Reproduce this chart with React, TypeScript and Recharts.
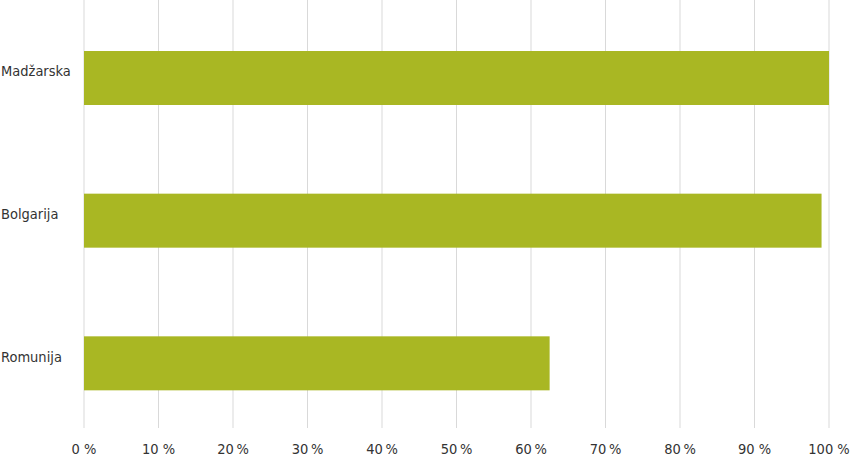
import { Bar, BarChart, CartesianGrid, XAxis, YAxis } from "recharts";

const countries = ["Madžarska", "Bolgarija", "Romunija"];
const shares = [100, 99, 62.5];
const tickValues = [0, 10, 20, 30, 40, 50, 60, 70, 80, 90, 100];
const tickLabels = ["0 %", "10 %", "20\u2009%", "30\u2009%", "40\u2009%", "50\u2009%", "60\u2009%", "70\u2009%", "80\u2009%", "90 %", "100 %"];

const data = countries.map((name, i) => ({ name, value: shares[i] }));

const font = "'DejaVu Sans Condensed', 'Liberation Sans Narrow', sans-serif";

// bars sit a little below the band centre in the original
const OffsetBar = (p: any) => (
  <rect x={p.x} y={p.y + 7} width={p.width} height={p.height} fill="#A9B723" />
);

const App = () => {
  return (
    <div style={{ position: "absolute", left: 0, top: 0, background: "#fff" }}>
      <BarChart
        width={850}
        height={457}
        data={data}
        layout="vertical"
        margin={{ top: 0, right: 21, bottom: 0, left: 0 }}
      >
        <CartesianGrid horizontal={false} stroke="#d9d9d9" />
        <XAxis
          type="number"
          domain={[0, 100]}
          ticks={tickValues}
          tickFormatter={(v) => tickLabels[tickValues.indexOf(v)]}
          axisLine={false}
          tickLine={false}
          height={29}
          tick={{ fill: "#333", fontSize: 14.5, fontFamily: font }}
          tickMargin={10}
        />
        <YAxis
          type="category"
          dataKey="name"
          width={84}
          axisLine={false}
          tickLine={false}
          tick={{ fill: "#333", fontSize: 14.5, fontFamily: font, textAnchor: "start", dx: -75 }}
        />
        <Bar dataKey="value" barSize={54} shape={OffsetBar} isAnimationActive={false} />
      </BarChart>
    </div>
  );
};

export default App;
